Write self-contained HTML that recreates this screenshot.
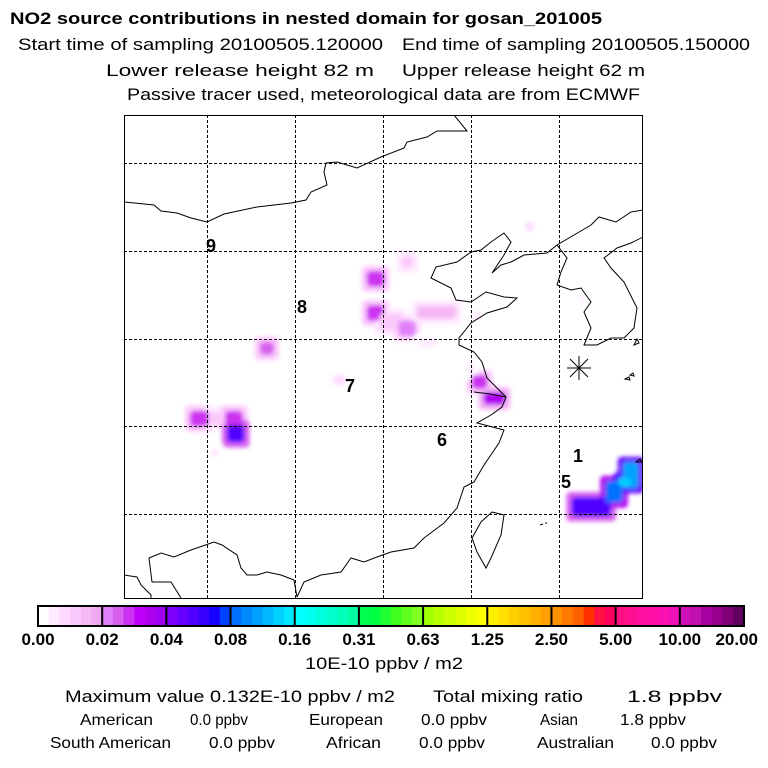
<!DOCTYPE html>
<html><head><meta charset="utf-8"><style>
html,body{margin:0;padding:0;background:#fff;}
svg{display:block;font-family:"Liberation Sans",Arial,sans-serif;}
</style></head><body>
<svg id="chart" width="768" height="768" viewBox="0 0 768 768" xmlns="http://www.w3.org/2000/svg">
<rect width="768" height="768" fill="#fff"/>
<g font-size="17" fill="#000">
<text x="10" y="24" font-weight="bold" textLength="592" lengthAdjust="spacingAndGlyphs">NO2 source contributions in nested domain for gosan_201005</text>
<text x="18" y="50" textLength="365" lengthAdjust="spacingAndGlyphs">Start time of sampling 20100505.120000</text>
<text x="402" y="50" textLength="348" lengthAdjust="spacingAndGlyphs">End time of sampling 20100505.150000</text>
<text x="106" y="76" textLength="268" lengthAdjust="spacingAndGlyphs">Lower release height   82 m</text>
<text x="402" y="76" textLength="243" lengthAdjust="spacingAndGlyphs">Upper release height   62 m</text>
<text x="127" y="100" textLength="513" lengthAdjust="spacingAndGlyphs">Passive tracer used, meteorological data are from ECMWF</text>
</g>
<defs>
<clipPath id="mapclip"><rect x="124" y="115" width="518" height="483"/></clipPath>
<filter id="soft" x="-50%" y="-50%" width="200%" height="200%"><feGaussianBlur stdDeviation="2.2"/></filter>
</defs>
<g id="plumes" clip-path="url(#mapclip)" filter="url(#soft)"></g>
<g clip-path="url(#mapclip)" fill="none" stroke="#000" stroke-width="1">
<polyline points="124,202 154,205 161,211 177,213 191,218 207,222 224,214 257,207 291,203 306,200 311,192 327,185 324,172 326,163 337,162 357,168 381,157 404,148 407,142 427,137 437,131 467,131 454,115"/>
<polyline points="643,210 631,212 616,222 599,217 591,225 557,245 547,253 524,255 511,262 501,265 492,273 504,255 511,242 504,233 491,242 481,250 471,252 457,262 436,267 431,278 451,288 456,300 471,302 486,292 504,297 517,298 507,307 487,313 471,323 459,338 459,345 474,352 482,362 487,378 506,397 502,407 491,415 477,423 504,430 499,443 484,465 474,482 464,487 457,508 444,523 424,538 414,548 391,552 377,557 364,562 351,558 341,572 321,575 304,582 297,597"/>
<polyline points="124,575 137,577 141,585 151,595 151,598"/>
<polyline points="149,558 161,553 174,557 191,550 214,542 222,545 237,555 241,568 247,575 257,575 267,572 281,575 294,580 297,597"/>
<polyline points="149,558 152,582 171,582 181,598"/>
<polyline points="557,245 567,258 561,272 557,285 571,290 581,288 591,302 584,312 591,328 584,345 597,345 611,338 624,338 634,328 637,308 624,282 611,268 604,258 617,248 631,243 643,237"/>
<polygon points="492,512 504,515 501,535 491,558 486,568 477,552 472,538 481,522"/>
<polyline points="474,392 490,394 506,397"/>
<path d="M634,345 l3,-6 l2,4 z M625,379 l4,-2 l1,3 z M630,375 l3,-2 l1,3 z M636,462 l4,-3 l2,3 z M540,525 l3,-1 M545,523 l2,0"/>
</g>
<g stroke="#000" stroke-width="1" stroke-dasharray="3,2" fill="none">
<line x1="207.5" y1="115" x2="207.5" y2="598"/><line x1="295.5" y1="115" x2="295.5" y2="598"/><line x1="383.5" y1="115" x2="383.5" y2="598"/><line x1="471.5" y1="115" x2="471.5" y2="598"/><line x1="559.5" y1="115" x2="559.5" y2="598"/>
<line x1="124" y1="163.5" x2="642" y2="163.5"/><line x1="124" y1="251.5" x2="642" y2="251.5"/><line x1="124" y1="339.5" x2="642" y2="339.5"/><line x1="124" y1="426.5" x2="642" y2="426.5"/><line x1="124" y1="514.5" x2="642" y2="514.5"/>
</g>
<g stroke="#000" stroke-width="1">
<line x1="567" y1="368" x2="591" y2="368"/><line x1="579" y1="356" x2="579" y2="380"/><line x1="570" y1="359" x2="588" y2="377"/><line x1="570" y1="377" x2="588" y2="359"/>
</g>
<g font-size="18" font-weight="bold" fill="#000">
<text x="206" y="252">9</text>
<text x="297" y="313">8</text>
<text x="345" y="392">7</text>
<text x="437" y="446">6</text>
<text x="573" y="462">1</text>
<text x="561" y="488">5</text>
</g>
<rect x="124.5" y="115.5" width="518" height="483" fill="none" stroke="#000" stroke-width="1"/>
<g id="colorbar"></g>
<text x="384" y="669" font-size="17" text-anchor="middle" textLength="158" lengthAdjust="spacingAndGlyphs">10E-10 ppbv / m2</text>
<g fill="#000">
<text x="65" y="702" font-size="17" textLength="330" lengthAdjust="spacingAndGlyphs">Maximum value  0.132E-10 ppbv / m2</text>
<text x="433" y="702" font-size="17" textLength="150" lengthAdjust="spacingAndGlyphs">Total mixing ratio</text>
<text x="627" y="702" font-size="17" textLength="95" lengthAdjust="spacingAndGlyphs">1.8 ppbv</text>
<g font-size="16">
<text x="80" y="725" textLength="73" lengthAdjust="spacingAndGlyphs">American</text>
<text x="190" y="725" textLength="58" lengthAdjust="spacingAndGlyphs">0.0 ppbv</text>
<text x="309" y="725" textLength="74" lengthAdjust="spacingAndGlyphs">European</text>
<text x="421" y="725" textLength="66" lengthAdjust="spacingAndGlyphs">0.0 ppbv</text>
<text x="540" y="725" textLength="38" lengthAdjust="spacingAndGlyphs">Asian</text>
<text x="620" y="725" textLength="66" lengthAdjust="spacingAndGlyphs">1.8 ppbv</text>
<text x="50" y="748" textLength="121" lengthAdjust="spacingAndGlyphs">South American</text>
<text x="209" y="748" textLength="66" lengthAdjust="spacingAndGlyphs">0.0 ppbv</text>
<text x="326" y="748" textLength="55" lengthAdjust="spacingAndGlyphs">African</text>
<text x="419" y="748" textLength="66" lengthAdjust="spacingAndGlyphs">0.0 ppbv</text>
<text x="537" y="748" textLength="77" lengthAdjust="spacingAndGlyphs">Australian</text>
<text x="651" y="748" textLength="66" lengthAdjust="spacingAndGlyphs">0.0 ppbv</text>
</g>
</g>
</svg>
<script>
// colorbar data
const levelLabels = ["0.00","0.02","0.04","0.08","0.16","0.31","0.63","1.25","2.50","5.00","10.00","20.00"];
const levelValues = [0,0.02,0.04,0.08,0.16,0.31,0.63,1.25,2.5,5,10,20];
const levelColors = [
["#ffffff","#ffeaff","#ffd8ff","#fbc8fb","#f5b8f5","#f0a8f0"],
["#e080f8","#d860f0","#cc30f0","#c000f8","#b000f0","#a000f0"],
["#8000ff","#6800ff","#5000ff","#3800ff","#1800ff","#0040ff"],
["#0070ff","#0088ff","#00a0ff","#00b8ff","#00d0ff","#00e8ff"],
["#00ffff","#00ffee","#00ffdd","#00ffcc","#00ffb8","#00ffa0"],
["#00ff50","#00ff40","#20ff30","#40ff20","#60ff20","#80ff20"],
["#a0ff00","#b8ff00","#ccff00","#ddff00","#eeff00","#ffff00"],
["#fff000","#ffe000","#ffd000","#ffc000","#ffb000","#ffa000"],
["#ff9000","#ff7800","#ff6000","#ff3000","#ff1040","#ff0060"],
["#ff1080","#ff1090","#ff10a0","#ff10a8","#f810b0","#f010b8"],
["#d010b8","#c010b0","#a800a0","#980090","#800078","#600060"]];
// plume data (lon, lat, width deg, height deg, value)
const plumeLon = [109.1,112.7,109.1,110.8,112.7,116.0,115.0,96.75,105.0,120.9,122.6,119.9,89.1,91.1,93.0,93.2,90.8,126.6,132.6,120.7,133.6,136.2,138.1,137.4];
const plumeLat = [36.9,38.8,33.0,32.0,31.25,33.1,29.6,29.0,25.4,25.2,23.3,26.7,21.0,21.0,21.0,19.3,17.1,42.8,34.7,32.8,11.0,12.7,14.6,13.8];
const plumeW =   [2.0,1.3,2.0,2.5,2.0,4.5,2.0,1.6,1.6,1.8,2.5,0.8,2.2,2.0,2.0,2.0,1.0,1.0,0.8,1.0,4.5,2.0,1.8,1.5];
const plumeH =   [1.8,1.3,1.8,2.0,1.8,1.5,1.0,1.5,1.0,1.6,1.5,1.5,1.8,1.5,1.8,2.0,1.0,1.0,0.8,1.0,2.2,2.5,3.0,1.0];
const plumeVal = [0.03,0.01,0.03,0.01,0.022,0.014,0.005,0.025,0.008,0.03,0.035,0.005,0.03,0.012,0.03,0.06,0.005,0.008,0.005,0.005,0.06,0.09,0.12,0.14];

const NS="http://www.w3.org/2000/svg";
const cb0=38, cb1=744, cbY=606, cbH=20;
const nInt=levelValues.length-1, intW=(cb1-cb0)/nInt;
function xLon(lon){return 207.5+(lon-90)*8.8;}
function yLat(lat){return 251.5-(lat-40)*8.8;}
function colorFor(v){
  for(let i=0;i<nInt;i++){
    if(v<levelValues[i+1]){
      const f=(v-levelValues[i])/(levelValues[i+1]-levelValues[i]);
      return levelColors[i][Math.min(5,Math.floor(f*6))];
    }
  }
  return levelColors[nInt-1][5];
}
const cb=document.getElementById('colorbar');
for(let i=0;i<nInt;i++){
  for(let j=0;j<6;j++){
    const r=document.createElementNS(NS,'rect');
    r.setAttribute('x',cb0+i*intW+j*intW/6);
    r.setAttribute('y',cbY);
    r.setAttribute('width',intW/6+0.5);
    r.setAttribute('height',cbH);
    r.setAttribute('fill',levelColors[i][j]);
    
    
    cb.appendChild(r);
  }
}
for(let i=0;i<=nInt;i++){
  const x=cb0+i*intW;
  const l=document.createElementNS(NS,'line');
  l.setAttribute('x1',x);l.setAttribute('x2',x);
  l.setAttribute('y1',cbY);l.setAttribute('y2',cbY+cbH);
  l.setAttribute('stroke','#000');l.setAttribute('stroke-width','2');
  
  
  cb.appendChild(l);
  const t=document.createElementNS(NS,'text');
  t.setAttribute('x',i==nInt?x+14:x);t.setAttribute('y',645);
  t.setAttribute('text-anchor',i==nInt?'end':'middle');
  t.setAttribute('font-size','17');t.setAttribute('font-weight','bold');
  t.textContent=levelLabels[i];
  
  
  cb.appendChild(t);
}
const fr=document.createElementNS(NS,'rect');
fr.setAttribute('x',cb0);fr.setAttribute('y',cbY);fr.setAttribute('width',cb1-cb0);fr.setAttribute('height',cbH);
fr.setAttribute('fill','none');fr.setAttribute('stroke','#000');fr.setAttribute('stroke-width','2');


cb.appendChild(fr);
const pg=document.getElementById('plumes');
// halos first, then cores
for(let pass=0;pass<2;pass++){
  for(let i=0;i<plumeVal.length;i++){
    const pad=pass==0?5:0;
    const w=plumeW[i]*8.8+2*pad,h=plumeH[i]*8.8+2*pad;
    const r=document.createElementNS(NS,'rect');
    r.setAttribute('x',xLon(plumeLon[i])-w/2);
    r.setAttribute('y',yLat(plumeLat[i])-h/2);
    r.setAttribute('width',w);r.setAttribute('height',h);
    r.setAttribute('rx',4);
    r.setAttribute('fill',colorFor(pass==0?plumeVal[i]*0.4:plumeVal[i]));
    
    
    pg.appendChild(r);
  }
}
</script>
</body></html>
